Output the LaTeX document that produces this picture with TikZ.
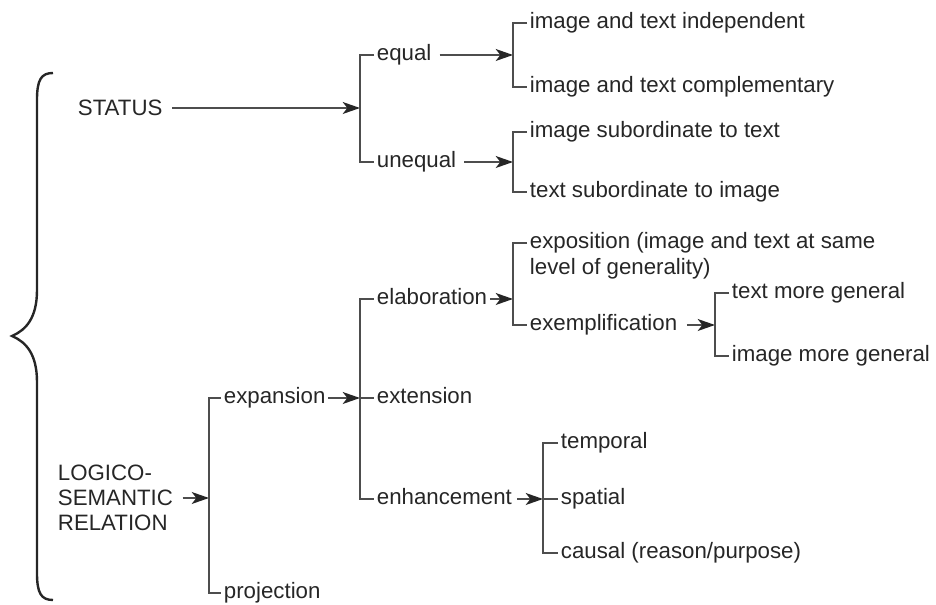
\documentclass[tikz,border=0pt]{standalone}
\usepackage{fontspec}
\setmainfont{Liberation Sans}
\usetikzlibrary{arrows.meta}

\definecolor{ink}{HTML}{262626}
\definecolor{linegray}{HTML}{4D4D4D}

\tikzset{
  lbl/.style={anchor=west, inner xsep=2pt, inner ysep=0pt, text=ink,
    text height=12pt, text depth=3.34pt},
  lblm/.style={inner xsep=2pt, inner ysep=0pt, text=ink, align=left},
  br/.style={draw=linegray, line width=1.1pt},
  arr/.style={br, -{Stealth[length=13pt, width=9pt, inset=3.5pt, color=ink]}},
}

\begin{document}
\begin{tikzpicture}[x=0.75pt, y=-0.75pt, font=\fontsize{16.7}{19}\selectfont]
  \useasboundingbox (0,0) rectangle (936,605);
  % left brace
  \draw[draw=ink, line width=1.8pt] (53,73) .. controls (41,73) and (37,80) .. (37,100)
    -- (37,290) .. controls (37,318) and (26,330) .. (12,336)
    .. controls (26,342) and (37,354) .. (37,382)
    -- (37,573) .. controls (37,593) and (41,600) .. (53,600);
  %
  \node[lbl, text depth=0pt] (st) at (75,108) {STATUS};
  \node[lbl] (eq) at (374,55) {equal};
  \node[lbl] (uneq) at (374,162) {unequal};
  \node[lbl] (ind) at (527,23) {image and text independent};
  \node[lbl] (comp) at (527,87) {image and text complementary};
  \node[lbl] (isub) at (527,132) {image subordinate to text};
  \node[lbl] (tsub) at (527,192) {text subordinate to image};
  %
  \node[lblm, anchor=west] (ls) at (55,498) {LOGICO-\\SEMANTIC\\RELATION};
  \node[lbl] (exp) at (221,398) {expansion};
  \node[lbl] (proj) at (221,593) {projection};
  \node[lbl] (elab) at (374,299) {elaboration};
  \node[lbl] (ext) at (374,398) {extension};
  \node[lbl] (enh) at (374,499) {enhancement};
  \node[lblm, anchor=north west] (expo) at (527,232.6) {exposition (image and text at same\\level of generality)};
  \node[lbl] (exm) at (527,325) {exemplification};
  \node[lbl] (tgen) at (729,293) {text more general};
  \node[lbl] (igen) at (729,356) {image more general};
  \node[lbl] (temp) at (558,443) {temporal};
  \node[lbl] (spa) at (558,499) {spatial};
  \node[lbl] (caus) at (558,553) {causal (reason/purpose)};
  %
  \coordinate (b-st) at (360,108);
  \coordinate (b-eq) at (513,55);
  \coordinate (b-uneq) at (513,162);
  \coordinate (b-ls) at (209,498);
  \coordinate (b-exp) at (360,398);
  \coordinate (b-elab) at (513,299);
  \coordinate (b-exm) at (715,325);
  \coordinate (b-enh) at (543,499);
  %
  \draw[arr, shorten <=5pt] (st) -- (b-st);
  \draw[br] (eq.west) -| (b-st) |- (uneq.west);
  \draw[arr, shorten <=4pt] (eq) -- (b-eq);
  \draw[br] (ind.west) -| (b-eq) |- (comp.west);
  \draw[arr, shorten <=4pt] (uneq) -- (b-uneq);
  \draw[br] (isub.west) -| (b-uneq) |- (tsub.west);
  %
  \draw[arr, shorten <=5pt] (ls) -- (b-ls);
  \draw[br] (exp.west) -| (b-ls) |- (proj.west);
  \draw[arr] (exp) -- (b-exp);
  \draw[br] (elab.west) -| (b-exp) |- (enh.west);
  \draw[br] (b-exp) -- (ext);
  \draw[arr] (elab) -- (b-elab);
  \draw[br] (expo.north west) ++(0,10.4) -| (b-elab) |- (exm.west);
  \draw[arr, shorten <=5pt] (exm) -- (b-exm);
  \draw[br] (tgen.west) -| (b-exm) |- (igen.west);
  \draw[arr, shorten <=2pt] (enh) -- (b-enh);
  \draw[br] (temp.west) -| (b-enh) |- (caus.west);
  \draw[br] (b-enh) -- (spa);
\end{tikzpicture}
\end{document}
